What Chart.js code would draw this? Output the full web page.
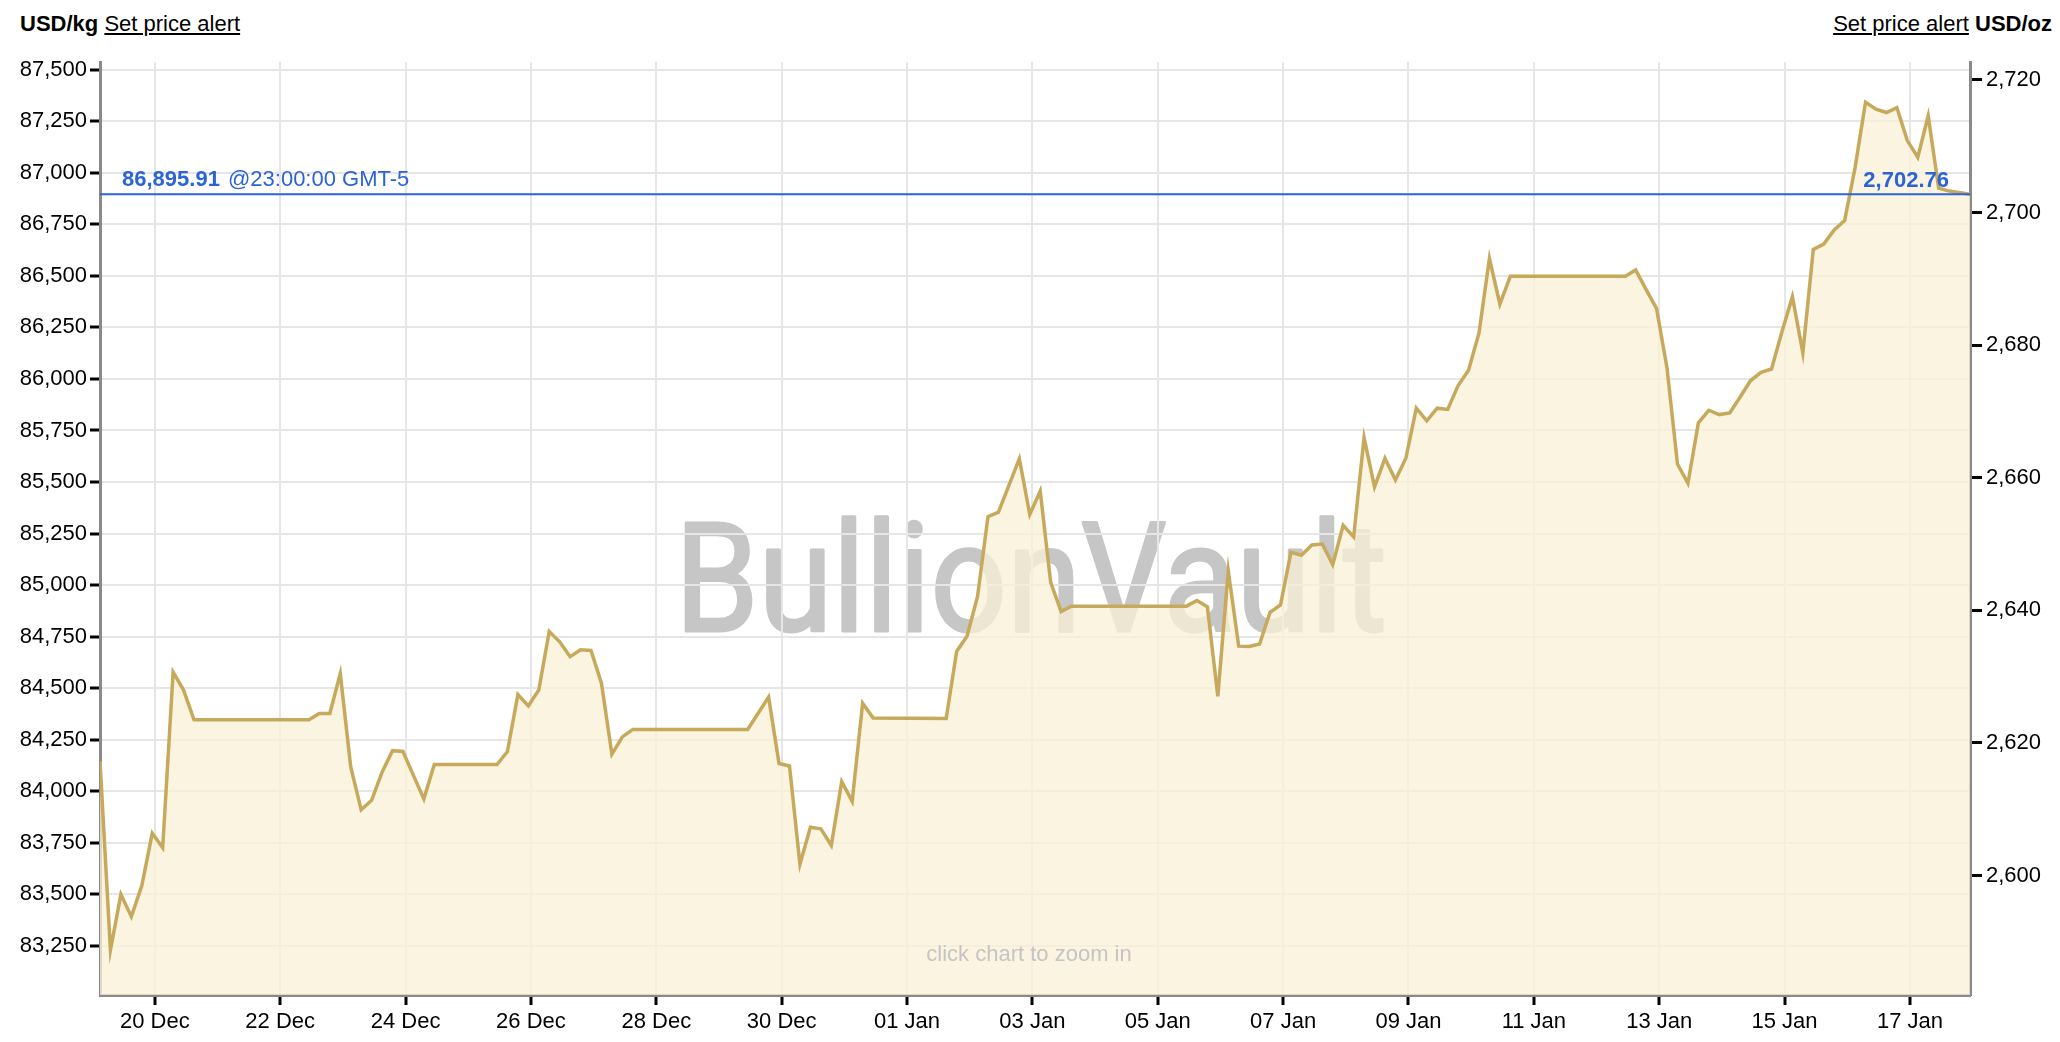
<!DOCTYPE html>
<html>
<head>
<meta charset="utf-8">
<script src="https://cdn.jsdelivr.net/npm/chart.js@4.4.1/dist/chart.umd.min.js"></script>
<style>
  html, body { margin: 0; padding: 0; background: #fff; }
  body { width: 2060px; height: 1042px; position: relative; overflow: hidden;
         font-family: 'Liberation Sans', Arial, sans-serif; color: #000; }
  #wrap { position: absolute; left: 0; top: 0; width: 2060px; height: 1042px; }
  .hdr { position: absolute; top: 13px; font-size: 22px; line-height: 22px; white-space: nowrap; }
  .hdr u { text-underline-offset: 2px; }
  #hdrLeft { left: 20px; }
  #hdrRight { right: 8px; }
</style>
</head>
<body>
<div class="hdr" id="hdrLeft"><b>USD/kg</b> <u>Set price alert</u></div>
<div class="hdr" id="hdrRight"><u>Set price alert</u> <b>USD/oz</b></div>
<div id="wrap"><canvas id="chart"></canvas></div>
<script>
// Gold price, USD per kg, 4-hourly closes (GMT-5)
const times = [
  '2024-12-19T03:00', '2024-12-19T07:00', '2024-12-19T11:00', '2024-12-19T15:00', '2024-12-19T19:00', '2024-12-19T23:00',
  '2024-12-20T03:00', '2024-12-20T07:00', '2024-12-20T11:00', '2024-12-20T15:00',
  '2024-12-22T11:00', '2024-12-22T15:00', '2024-12-22T19:00', '2024-12-22T23:00',
  '2024-12-23T03:00', '2024-12-23T07:00', '2024-12-23T11:00', '2024-12-23T15:00', '2024-12-23T19:00', '2024-12-23T23:00',
  '2024-12-24T03:00', '2024-12-24T07:00', '2024-12-24T11:00',
  '2024-12-25T11:00', '2024-12-25T15:00', '2024-12-25T19:00', '2024-12-25T23:00',
  '2024-12-26T03:00', '2024-12-26T07:00', '2024-12-26T11:00', '2024-12-26T15:00', '2024-12-26T19:00', '2024-12-26T23:00',
  '2024-12-27T03:00', '2024-12-27T07:00', '2024-12-27T11:00', '2024-12-27T15:00',
  '2024-12-29T11:00', '2024-12-29T19:00', '2024-12-29T23:00',
  '2024-12-30T03:00', '2024-12-30T07:00', '2024-12-30T11:00', '2024-12-30T15:00', '2024-12-30T19:00', '2024-12-30T23:00',
  '2024-12-31T03:00', '2024-12-31T07:00', '2024-12-31T11:00',
  '2025-01-01T15:00', '2025-01-01T19:00', '2025-01-01T23:00',
  '2025-01-02T03:00', '2025-01-02T07:00', '2025-01-02T11:00', '2025-01-02T19:00', '2025-01-02T23:00',
  '2025-01-03T03:00', '2025-01-03T07:00', '2025-01-03T11:00', '2025-01-03T15:00',
  '2025-01-05T11:00', '2025-01-05T15:00', '2025-01-05T19:00', '2025-01-05T23:00',
  '2025-01-06T03:00', '2025-01-06T07:00', '2025-01-06T11:00', '2025-01-06T15:00', '2025-01-06T19:00', '2025-01-06T23:00',
  '2025-01-07T03:00', '2025-01-07T07:00', '2025-01-07T11:00', '2025-01-07T15:00', '2025-01-07T19:00', '2025-01-07T23:00',
  '2025-01-08T03:00', '2025-01-08T07:00', '2025-01-08T11:00', '2025-01-08T15:00', '2025-01-08T19:00', '2025-01-08T23:00',
  '2025-01-09T03:00', '2025-01-09T07:00', '2025-01-09T11:00', '2025-01-09T15:00', '2025-01-09T19:00', '2025-01-09T23:00',
  '2025-01-10T03:00', '2025-01-10T07:00', '2025-01-10T11:00', '2025-01-10T15:00',
  '2025-01-12T11:00', '2025-01-12T15:00', '2025-01-12T19:00', '2025-01-12T23:00',
  '2025-01-13T03:00', '2025-01-13T07:00', '2025-01-13T11:00', '2025-01-13T15:00', '2025-01-13T19:00', '2025-01-13T23:00',
  '2025-01-14T03:00', '2025-01-14T07:00', '2025-01-14T11:00', '2025-01-14T15:00', '2025-01-14T19:00', '2025-01-14T23:00',
  '2025-01-15T03:00', '2025-01-15T07:00', '2025-01-15T11:00', '2025-01-15T15:00', '2025-01-15T19:00', '2025-01-15T23:00',
  '2025-01-16T03:00', '2025-01-16T07:00', '2025-01-16T11:00', '2025-01-16T15:00', '2025-01-16T19:00', '2025-01-16T23:00',
  '2025-01-17T03:00', '2025-01-17T07:00', '2025-01-17T11:00', '2025-01-17T15:00', '2025-01-17T23:00'
];

const usdPerKg = [
  84147, 83230, 83500, 83392, 83542, 83796,
  83726, 84578, 84491, 84347,
  84347, 84377, 84377, 84571,
  84118, 83910, 83956, 84093, 84197, 84193,
  84077, 83963, 84130,
  84130, 84193, 84469, 84414,
  84491, 84775, 84725, 84653, 84686, 84683,
  84524, 84180, 84264, 84300,
  84300, 84457, 84135,
  84123, 83646, 83826, 83818, 83738, 84047,
  83951, 84427, 84356,
  84353, 84678, 84753,
  84945, 85332, 85354, 85613, 85343,
  85456, 85013, 84872, 84898,
  84898, 84925, 84895, 84461,
  85069, 84704, 84702, 84714, 84868, 84904,
  85159, 85145, 85195, 85199, 85099, 85290,
  85234, 85715, 85476, 85615, 85510, 85615,
  85858, 85797, 85858, 85852, 85968, 86042,
  86223, 86584, 86363, 86498,
  86498, 86528, 86433, 86341,
  86052, 85587, 85494, 85787, 85848, 85827,
  85835, 85912, 85992, 86032, 86048, 86229,
  86399, 86126, 86628, 86654, 86722, 86768,
  87025, 87342, 87308, 87292, 87316, 87156,
  87075, 87276, 86925, 86911, 86895.91
];

const xTickDates = ['2024-12-20T00:00', '2024-12-22T00:00', '2024-12-24T00:00', '2024-12-26T00:00',
  '2024-12-28T00:00', '2024-12-30T00:00', '2025-01-01T00:00', '2025-01-03T00:00', '2025-01-05T00:00',
  '2025-01-07T00:00', '2025-01-09T00:00', '2025-01-11T00:00', '2025-01-13T00:00', '2025-01-15T00:00',
  '2025-01-17T00:00'];
const xTickLabels = ['20 Dec', '22 Dec', '24 Dec', '26 Dec', '28 Dec', '30 Dec', '01 Jan', '03 Jan',
  '05 Jan', '07 Jan', '09 Jan', '11 Jan', '13 Jan', '15 Jan', '17 Jan'];

const kgTicks = [83250, 83500, 83750, 84000, 84250, 84500, 84750, 85000, 85250, 85500,
  85750, 86000, 86250, 86500, 86750, 87000, 87250, 87500];
const ozTicks = [2600, 2620, 2640, 2660, 2680, 2700, 2720];

const kgMin = 83012;
const kgMax = 87537;
const OZ_PER_KG = 32.1507;

const lastKg = 86895.91;
const lastOz = 2702.76;
const lastTime = '@23:00:00 GMT-5';

const GOLD = '#c6a95b';
const BLUE = '#2a64d8';
const TICK_FONT = { family: "'Liberation Sans', Arial, sans-serif", size: 22 };

// days since 20 Dec 00:00
function dayOffset(s) {
  return (Date.parse(s + ':00Z') - Date.UTC(2024, 11, 20)) / 86400000;
}

function fmt(v, digits) {
  return v.toLocaleString('en-US', { minimumFractionDigits: digits || 0, maximumFractionDigits: digits || 0 });
}

const xMin = dayOffset(times[0]);
const xMax = dayOffset(times[times.length - 1]);

const overlayPlugin = {
  id: 'overlay',
  beforeDraw(chart) {
    // watermark sits underneath grid and data; squeezed a little to match the logo face
    const ctx = chart.ctx;
    const a = chart.chartArea;
    const text = 'BullionVault';
    ctx.save();
    ctx.font = "152px Roboto, 'Liberation Sans', sans-serif";
    ctx.fillStyle = '#c6c6c6';
    ctx.strokeStyle = '#c6c6c6';
    ctx.lineWidth = 3;
    ctx.lineJoin = 'round';
    ctx.textAlign = 'center';
    ctx.textBaseline = 'alphabetic';
    const sx = 712 / ctx.measureText(text).width;
    ctx.translate((a.left + a.right) / 2 - 4, a.top + 569);
    ctx.scale(sx, 1);
    ctx.fillText(text, 0, 0);
    ctx.strokeText(text, 0, 0);
    ctx.restore();
  },
  afterDatasetsDraw(chart) {
    const ctx = chart.ctx;
    const a = chart.chartArea;
    const y = chart.scales.y.getPixelForValue(lastKg) - 8;
    ctx.save();
    ctx.fillStyle = BLUE;
    ctx.textBaseline = 'alphabetic';
    ctx.textAlign = 'left';
    ctx.font = "bold 22px 'Liberation Sans', Arial, sans-serif";
    const kgText = fmt(lastKg, 2);
    ctx.fillText(kgText, a.left + 22, y);
    const w = ctx.measureText(kgText + ' ').width;
    ctx.font = "22px 'Liberation Sans', Arial, sans-serif";
    ctx.fillText(lastTime, a.left + 22 + w + 2, y);
    ctx.font = "bold 22px 'Liberation Sans', Arial, sans-serif";
    ctx.textAlign = 'right';
    ctx.fillText(fmt(lastOz, 2), a.right - 21, y + 1);

    ctx.font = "22px 'Liberation Sans', Arial, sans-serif";
    ctx.fillStyle = '#c4c4c4';
    ctx.textAlign = 'center';
    ctx.textBaseline = 'middle';
    ctx.fillText('click chart to zoom in', (a.left + a.right) / 2 - 6, a.bottom - 40);
    ctx.restore();
  }
};

function createGoldChart(ctx) {
  const priceData = times.map((t, i) => ({ x: dayOffset(t), y: usdPerKg[i] }));
  const lastLine = [{ x: xMin, y: lastKg }, { x: xMax, y: lastKg }];

  // eslint-disable-next-line no-undef
  return new Chart(ctx, {
    type: 'line',
    data: {
      datasets: [{
        label: 'Last',
        data: lastLine,
        borderColor: BLUE,
        borderWidth: 2,
        pointRadius: 0,
        fill: false,
        tension: 0
      }, {
        label: 'Gold USD/kg',
        data: priceData,
        borderColor: GOLD,
        backgroundColor: 'rgba(250, 240, 215, 0.75)',
        borderWidth: 3.5,
        pointRadius: 0,
        tension: 0,
        fill: 'start'
      }]
    },
    options: {
      responsive: true,
      maintainAspectRatio: false,
      animation: false,
      layout: { padding: { top: 62, left: 0, right: 0, bottom: 0 } },
      scales: {
        x: {
          type: 'linear',
          position: 'bottom',
          min: xMin,
          max: xMax,
          afterBuildTicks: s => { s.ticks = xTickDates.map(d => ({ value: dayOffset(d) })); },
          afterFit: s => { s.height = 47; },
          grid: { color: '#e6e6e6', lineWidth: 2, tickColor: '#000', tickWidth: 3, tickLength: 10 },
          border: { color: '#8a8a8a', width: 3 },
          ticks: {
            color: '#000',
            font: TICK_FONT,
            padding: 4,
            maxRotation: 0,
            autoSkip: false,
            callback: (v, i) => xTickLabels[i]
          }
        },
        y: {
          type: 'linear',
          position: 'left',
          min: kgMin,
          max: kgMax,
          afterBuildTicks: s => { s.ticks = kgTicks.map(v => ({ value: v })); },
          afterFit: s => { s.width = 100; },
          grid: { color: '#e6e6e6', lineWidth: 2, tickColor: '#000', tickWidth: 3, tickLength: 10 },
          border: { color: '#8a8a8a', width: 3 },
          ticks: { color: '#000', font: TICK_FONT, padding: 3, autoSkip: false, callback: v => fmt(v) }
        },
        y2: {
          type: 'linear',
          position: 'right',
          min: kgMin / OZ_PER_KG,
          max: kgMax / OZ_PER_KG,
          afterBuildTicks: s => { s.ticks = ozTicks.map(v => ({ value: v })); },
          afterFit: s => { s.width = 90; },
          grid: { drawOnChartArea: false, tickColor: '#000', tickWidth: 3, tickLength: 12 },
          border: { color: '#8a8a8a', width: 3 },
          ticks: { color: '#000', font: TICK_FONT, padding: 4, autoSkip: false, callback: v => fmt(v) }
        }
      },
      plugins: {
        legend: { display: false },
        tooltip: { enabled: false }
      }
    },
    plugins: [overlayPlugin]
  });
}

const chart = createGoldChart(document.getElementById('chart').getContext('2d'));
</script>
</body>
</html>
